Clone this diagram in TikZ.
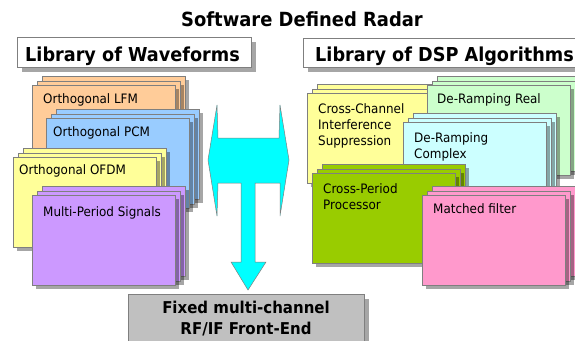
\documentclass[tikz,border=0pt]{standalone}
\usepackage{fontspec}
\setmainfont{DejaVu Sans}[FakeStretch=0.92]
\usetikzlibrary{shadows}
\definecolor{cLFM}{HTML}{FFCC99}
\definecolor{cPCM}{HTML}{99CCFF}
\definecolor{cYel}{HTML}{FFFF99}
\definecolor{cPur}{HTML}{CC99FF}
\definecolor{cGrn}{HTML}{CCFFCC}
\definecolor{cCyn}{HTML}{CCFFFF}
\definecolor{cOli}{HTML}{99CC00}
\definecolor{cPnk}{HTML}{FF99CC}
\definecolor{cBox}{HTML}{C0C0C0}
\definecolor{cArr}{HTML}{00FFFF}
\definecolor{edge}{HTML}{7F7F7F}
\tikzset{
  card/.style={draw=edge, line width=0.6pt, minimum width=143pt, minimum height=90pt,
    inner sep=0pt, anchor=north west,
    drop shadow={shadow xshift=4pt, shadow yshift=-4pt, opacity=0.35, fill=black}},
  hdbox/.style={draw=edge, line width=0.6pt, fill=white, inner sep=0pt, anchor=north west,
    drop shadow={shadow xshift=5pt, shadow yshift=-5pt, opacity=0.35, fill=black}},
  lbl/.style={font=\fontsize{13}{16}\selectfont, inner sep=0pt, anchor=base west, align=left},
  hdtxt/.style={font=\fontsize{19.2}{22}\selectfont\bfseries, inner sep=0pt, anchor=base west},
  arrowshape/.style={fill=cArr, draw=edge, line width=0.5pt, line join=miter},
}
\newcommand\cardstack[4]{%
  \node[card, fill=#4] (#1c) at (#2+10, #3-9) {};
  \node[card, fill=#4] (#1b) at (#2+5, #3-4.5) {};
  \node[card, fill=#4] (#1a) at (#2, #3) {};
}
\begin{document}
\begin{tikzpicture}[x=1pt, y=-1pt]
\clip (0,0) rectangle (575,340);
\fill[white] (0,0) rectangle (575,340);

% title
\node[font=\fontsize{19.5}{22}\selectfont\bfseries, inner sep=0pt, anchor=base] (title) at (302,27) {Software Defined Radar};

% header boxes
\node[hdbox, minimum width=234pt, minimum height=30pt] (wfbox) at (17,37) {};
\node[hdtxt] (wftxt) at (25,61) {Library of Waveforms};
\node[hdbox, minimum width=290pt, minimum height=29pt] (dspbox) at (303,37.5) {};
\node[hdtxt] (dsptxt) at (315,61) {Library of DSP Algorithms};

% left stacks
\cardstack{lfm}{32}{85}{cLFM}
\node[lbl] (lfmt) at (43,103) {Orthogonal LFM};
\cardstack{pcm}{46}{118}{cPCM}
\node[lbl] (pcmt) at (53,136) {Orthogonal PCM};
\cardstack{ofdm}{13}{157}{cYel}
\node[lbl] (ofdmt) at (19,174) {Orthogonal OFDM};
\cardstack{mps}{32}{195}{cPur}
\node[lbl] (mpst) at (43,216) {Multi-Period Signals};

% right stacks
\cardstack{cci}{307}{93}{cYel}
\node[lbl] (ccit) at (318,145) {Cross-Channel\\Interference\\Suppression};
\cardstack{drr}{427}{85}{cGrn}
\node[lbl] (drrt) at (437,103) {De-Ramping Real};
\cardstack{drc}{403}{122}{cCyn}
\node[lbl] (drct) at (414,158) {De-Ramping\\Complex};
\cardstack{cpp}{312}{173}{cOli}
\node[lbl] (cppt) at (323,209) {Cross-Period\\Processor};
\cardstack{mf}{422}{195}{cPnk}
\node[lbl] (mft) at (433,213) {Matched filter};

% arrow
\draw[arrowshape] (208,160) -- (217,105) -- (218,138) -- (279,138) -- (280,105)
  -- (289,160) -- (280,216) -- (280,183) -- (255,183) -- (255,262) -- (266,262)
  -- (248,290) -- (231,262) -- (241,262) -- (241,183) -- (218,183) -- (217,216) -- cycle;

% front end box
\node[hdbox, fill=cBox, minimum width=236pt, minimum height=60pt] (febox) at (128,294) {};
\node[font=\fontsize{16.3}{21}\selectfont\bfseries, inner sep=0pt, anchor=base, align=center] (fetxt) at (246,334) {Fixed multi-channel\\RF/IF Front-End};
\end{tikzpicture}
\end{document}
